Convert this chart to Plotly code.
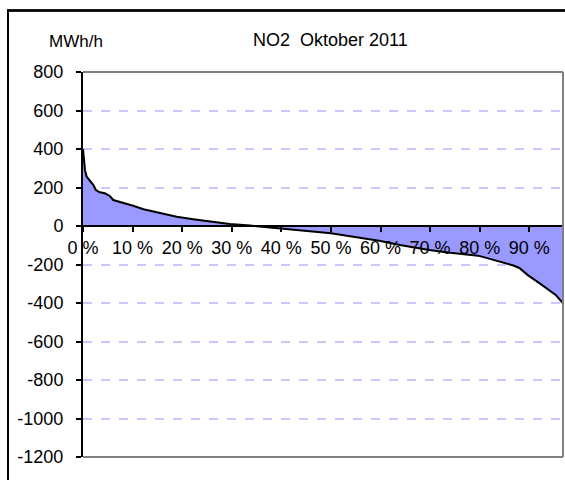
import plotly.graph_objects as go

# Duration curve, NO2 October 2011 (share of hours in %, MWh/h)
pct = [0, 0.4, 0.75, 1.4, 2.1, 2.6, 3.4, 4.4, 5.4, 6.1, 8.1, 10.1, 12.2, 15.5,
       18.9, 22.2, 25.6, 29.6, 33.7, 39.9, 50.0, 60.0, 63.9, 69.8, 74.0,
       79.7, 83.4, 86.8, 88.0, 89.7, 92.1, 94.5, 95.4, 96.2, 96.8]
mwh = [400, 290, 256, 235, 213, 187, 175, 170, 156, 135, 121, 105, 87, 66,
       48, 35, 22, 10, 2, -12, -38, -78, -99, -125, -139,
       -154, -180, -205, -218, -255, -298, -340, -360, -384, -402]

y_ticks = [800, 600, 400, 200, 0, -200, -400, -600, -800, -1000, -1200]
y_labels = [str(v) for v in y_ticks]
x_ticks = [0, 10, 20, 30, 40, 50, 60, 70, 80, 90]
x_labels = [f"{v} %" for v in x_ticks]

title_text = "NO2  Oktober 2011"
unit_text = "MWh/h"

FONT = "Liberation Sans, Arial, sans-serif"

fig = go.Figure()
fig.add_trace(go.Scatter(
    x=pct, y=mwh, mode="lines", fill="tozeroy",
    fillcolor="#9999ff", line=dict(color="black", width=2),
    hoverinfo="skip", showlegend=False,
))

W, H = 565, 480
L, T = 83, 72
pw, ph = 480, 385
R, B = W - L - pw, H - T - ph


def px_x(p):
    return (p - L) / pw


def px_y(p):
    return (T + ph - p) / ph


fig.update_layout(
    width=W, height=H,
    margin=dict(l=L, r=R, t=T, b=B, pad=0),
    paper_bgcolor="white", plot_bgcolor="white",
    font=dict(family=FONT, size=18, color="black"),
    xaxis=dict(
        range=[0, 96.8], tickmode="array", tickvals=x_ticks, ticktext=x_labels,
        showgrid=False, zeroline=False, showline=True, linecolor="black",
        linewidth=2, ticks="outside", ticklen=5, tickwidth=1.5, tickcolor="black",
        anchor="free", position=0.6, tickfont=dict(size=18),
    ),
    yaxis=dict(
        range=[-1200, 800], tickmode="array", tickvals=y_ticks, ticktext=y_labels,
        showgrid=True, gridcolor="#c8c8ff", griddash="dash", gridwidth=1.5,
        zeroline=False, showline=True, linecolor="black", linewidth=2,
        ticks="outside", ticklen=5, tickwidth=1.5, tickcolor="black",
        ticklabelstandoff=9, tickfont=dict(size=18),
    ),
    shapes=[
        dict(type="line", xref="paper", yref="paper", x0=0, x1=1, y0=1, y1=1,
             line=dict(color="#808080", width=2), layer="above"),
        dict(type="line", xref="paper", yref="paper", x0=1, x1=1, y0=0, y1=1,
             line=dict(color="#808080", width=2), layer="above"),
        dict(type="line", xref="paper", yref="paper", x0=0, x1=1, y0=0, y1=0,
             line=dict(color="#808080", width=2), layer="above"),
        # outer chart frame (left edge and top edge)
        dict(type="rect", xref="paper", yref="paper",
             x0=px_x(8), x1=px_x(620), y0=px_y(10.5), y1=px_y(540),
             line=dict(color="black", width=2), fillcolor="rgba(0,0,0,0)",
             layer="above"),
        dict(type="line", xref="paper", yref="paper",
             x0=px_x(7), x1=px_x(565), y0=px_y(10.5), y1=px_y(10.5),
             line=dict(color="black", width=2.5), layer="above"),
    ],
    annotations=[
        dict(text=title_text, xref="paper", yref="paper", x=px_x(330), y=px_y(40),
             xanchor="center", yanchor="middle", showarrow=False,
             font=dict(size=18, family=FONT, color="black")),
        dict(text=unit_text, xref="paper", yref="paper", x=px_x(76), y=px_y(41),
             xanchor="center", yanchor="middle", showarrow=False,
             font=dict(size=17, family=FONT, color="black")),
    ],
)

fig.write_html(
    "out.html",
    config={"displayModeBar": False},
    post_script="document.documentElement.style.overflow='hidden';"
                "document.body.style.margin='0';document.body.style.overflow='hidden';",
)
